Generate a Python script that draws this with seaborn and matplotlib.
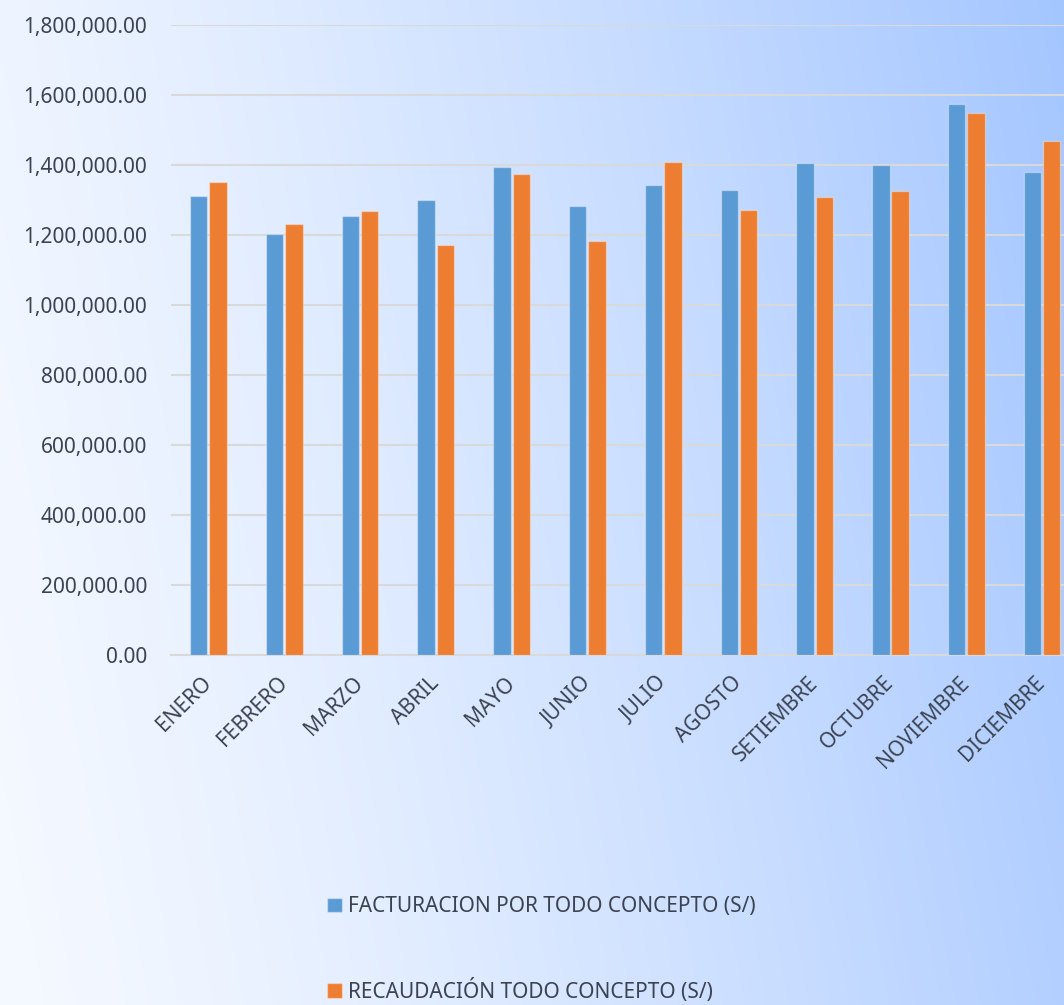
import numpy as np
import pandas as pd
import matplotlib
matplotlib.use("Agg")
import matplotlib.pyplot as plt
from matplotlib.colors import to_rgb
import seaborn as sns

# Monthly billing and collection figures (S/)
meses = ["ENERO", "FEBRERO", "MARZO", "ABRIL", "MAYO", "JUNIO", "JULIO",
         "AGOSTO", "SETIEMBRE", "OCTUBRE", "NOVIEMBRE", "DICIEMBRE"]
facturacion = [1309400, 1202800, 1252300, 1300000, 1394300, 1281800,
               1341900, 1327600, 1404700, 1400000, 1574300, 1378000]
recaudacion = [1351400, 1231400, 1268600, 1171400, 1374300, 1182800,
               1406600, 1270400, 1307600, 1323800, 1546600, 1468600]
serie_fact = "FACTURACION POR TODO CONCEPTO (S/)"
serie_rec = "RECAUDACIÓN TODO CONCEPTO (S/)"
yticks = np.arange(0, 1800001, 200000)

df = pd.DataFrame({
    "mes": meses * 2,
    "monto": facturacion + recaudacion,
    "serie": [serie_fact] * len(meses) + [serie_rec] * len(meses),
})

sns.set_theme(style="white")
plt.rcParams["font.family"] = ["Noto Sans", "DejaVu Sans"]
text_color = "#3B4352"

fig = plt.figure(figsize=(10.64, 10.05), dpi=100)

# soft diagonal gradient behind everything
bg = fig.add_axes([0, 0, 1, 1], zorder=-10)
H, W = 200, 200
u = np.linspace(0, 1, W)[None, :]
v = np.linspace(1, 0, H)[:, None]
t = np.clip(0.85 * u + 0.15 * v, 0, 1) ** 1.3
c0 = np.array(to_rgb("#F5F9FF"))
c1 = np.array(to_rgb("#A4C6FF"))
img = c0[None, None, :] * (1 - t[..., None]) + c1[None, None, :] * t[..., None]
bg.imshow(img, aspect="auto", extent=[0, 1, 0, 1], interpolation="bilinear")
bg.set_axis_off()

ax = fig.add_axes([0.1603, 0.3483, 1.0150 - 0.1603, 0.9756 - 0.3483])
ax.set_facecolor("none")

sns.barplot(data=df, x="mes", y="monto", hue="serie", ax=ax,
            palette=["#5B9BD5", "#ED7D31"], width=0.51, gap=0.1,
            saturation=1, edgecolor=(1, 1, 1, 0.35), linewidth=1.0,
            zorder=3)

ax.set_ylim(0, 1800000)
ax.set_xlim(-0.5, len(meses) - 0.5)
ax.set_yticks(yticks)
ax.set_yticklabels([f"{v:,.2f}" for v in yticks])
ax.yaxis.grid(True, color="#D9D9D9", linewidth=1.5, zorder=0)
ax.set_axisbelow(True)
for s in ["top", "right", "left"]:
    ax.spines[s].set_visible(False)
ax.spines["bottom"].set_color("#D9D9D9")
ax.spines["bottom"].set_linewidth(1.5)
ax.set_xlabel("")
ax.set_ylabel("")
ax.tick_params(axis="y", length=0, pad=17, labelsize=15, labelcolor=text_color)
ax.tick_params(axis="x", length=0, pad=18, labelsize=15, labelcolor=text_color)
for lbl in ax.get_xticklabels():
    lbl.set_rotation(45)
    lbl.set_ha("right")
    lbl.set_va("center")
    lbl.set_rotation_mode("anchor")

handles, labels = ax.get_legend_handles_labels()
ax.get_legend().remove()
fig.legend(handles, labels, loc="upper left", bbox_to_anchor=(0.3075, 0.108),
           frameon=False, fontsize=15, labelcolor=text_color,
           handlelength=0.7, handleheight=0.7, handletextpad=0.3,
           labelspacing=2.95, borderaxespad=0, borderpad=0)

fig.savefig("out.png", dpi=100)
